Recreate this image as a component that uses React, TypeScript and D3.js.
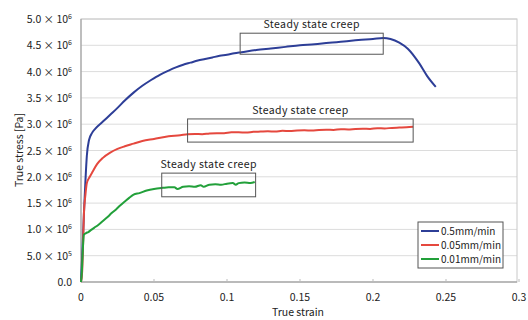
import React from 'react';
import * as d3 from 'd3';

// 0.5 mm/min
const blueStrain = [0, 0.001, 0.002, 0.003, 0.004, 0.0055, 0.0075, 0.01, 0.015, 0.02, 0.025, 0.03, 0.036, 0.042, 0.048, 0.054, 0.06, 0.065, 0.07, 0.075, 0.08, 0.085, 0.09, 0.095, 0.1, 0.105, 0.11, 0.12, 0.13, 0.14, 0.15, 0.16, 0.17, 0.18, 0.19, 0.2, 0.207, 0.212, 0.218, 0.224, 0.2316, 0.237, 0.243];
const blueStress = [0, 0.6, 1.3, 1.9, 2.4, 2.7, 2.83, 2.92, 3.05, 3.18, 3.31, 3.45, 3.6, 3.73, 3.84, 3.94, 4.02, 4.08, 4.13, 4.17, 4.21, 4.24, 4.27, 4.3, 4.32, 4.35, 4.37, 4.41, 4.44, 4.47, 4.5, 4.52, 4.55, 4.57, 4.6, 4.62, 4.64, 4.62, 4.55, 4.43, 4.16, 3.92, 3.71];

// 0.05 mm/min
const redStrain = [0, 0.0008, 0.0015, 0.002, 0.003, 0.004, 0.006, 0.008, 0.011, 0.015, 0.02, 0.025, 0.03, 0.036, 0.042, 0.05, 0.06, 0.068, 0.073, 0.078, 0.083, 0.088, 0.093, 0.098, 0.103, 0.108, 0.113, 0.118, 0.123, 0.128, 0.133, 0.138, 0.143, 0.148, 0.153, 0.158, 0.163, 0.168, 0.173, 0.178, 0.183, 0.188, 0.193, 0.198, 0.203, 0.208, 0.213, 0.218, 0.223, 0.2275];
const redStress = [0, 0.2, 0.8, 1.3, 1.65, 1.88, 2.0, 2.1, 2.24, 2.36, 2.46, 2.53, 2.58, 2.63, 2.68, 2.72, 2.77, 2.79, 2.81, 2.815, 2.81, 2.825, 2.83, 2.83, 2.845, 2.845, 2.84, 2.855, 2.86, 2.865, 2.86, 2.875, 2.87, 2.88, 2.885, 2.88, 2.89, 2.895, 2.89, 2.905, 2.9, 2.91, 2.915, 2.91, 2.925, 2.92, 2.93, 2.935, 2.94, 2.95];

// 0.01 mm/min
const greenStrain = [0, 0.0005, 0.001, 0.0015, 0.002, 0.0035, 0.005, 0.007, 0.009, 0.012, 0.015, 0.018, 0.021, 0.024, 0.027, 0.03, 0.033, 0.036, 0.04, 0.045, 0.05, 0.056, 0.06, 0.064, 0.066, 0.07, 0.074, 0.078, 0.082, 0.084, 0.088, 0.092, 0.096, 0.1, 0.104, 0.106, 0.108, 0.112, 0.116, 0.119];
const greenStress = [0, 0.15, 0.45, 0.75, 0.9, 0.93, 0.95, 0.99, 1.03, 1.09, 1.16, 1.23, 1.31, 1.38, 1.46, 1.53, 1.6, 1.66, 1.69, 1.74, 1.77, 1.79, 1.8, 1.8, 1.77, 1.81, 1.82, 1.81, 1.84, 1.81, 1.85, 1.86, 1.85, 1.87, 1.88, 1.85, 1.88, 1.89, 1.88, 1.9];

const legendLabels = ['0.5mm/min', '0.05mm/min', '0.01mm/min'];
const seriesColors = ['#2d3e97', '#e5483e', '#22a03a'];

const xTicks = [0, 0.05, 0.1, 0.15, 0.2, 0.25, 0.3];
const xTickLabels = ['0', '0.05', '0.1', '0.15', '0.2', '0.25', '0.3'];
const yTicks = [0, 0.5, 1, 1.5, 2, 2.5, 3, 3.5, 4, 4.5, 5];
const yTickMant = ['0.0', '5.0', '1.0', '1.5', '2.0', '2.5', '3.0', '3.5', '4.0', '4.5', '5.0'];
const yTickExp = ['', '5', '6', '6', '6', '6', '6', '6', '6', '6', '6'];

// steady state creep boxes: [x0, x1, y0, y1] in data units (stress x1e6)
const creepBoxes = [
  [0.109, 0.207, 4.33, 4.73],
  [0.073, 0.2275, 2.66, 3.1],
  [0.0553, 0.1196, 1.62, 2.07],
];
const creepLabel = 'Steady state creep';

const FONT = '"Noto Sans CJK JP", "Noto Sans", sans-serif';

export default function App() {
  const W = 528;
  const H = 320;
  const x = d3.scaleLinear().domain([0, 0.3]).range([81, 519]);
  const y = d3.scaleLinear().domain([0, 5]).range([282, 19]);

  const series = [
    { s: blueStrain, v: blueStress },
    { s: redStrain, v: redStress },
    { s: greenStrain, v: greenStress },
  ];

  const line = d3
    .line<[number, number]>()
    .x(d => x(d[0]))
    .y(d => y(d[1]))
    .curve(d3.curveMonotoneX);

  const legX = 418;
  const legY = 222;

  return (
    <svg width={W} height={H} style={{ position: 'absolute', left: 0, top: 0, background: '#fff' }} fontFamily={FONT}>
      <rect x={0} y={0} width={W} height={H} fill="#fff" />
      {/* grid */}
      {yTicks.map(t => (
        <line key={'g' + t} x1={x(0)} x2={x(0.3) - 2} y1={y(t)} y2={y(t)} stroke="#dcdcdc" strokeWidth={1} />
      ))}
      {/* frame */}
      <rect x={x(0)} y={y(5)} width={x(0.3) - 2 - x(0)} height={y(0) - y(5)} fill="none" stroke="#c8c8c8" />
      <line x1={x(0)} x2={x(0)} y1={y(5)} y2={y(0)} stroke="#999" />
      <line x1={x(0)} x2={x(0.3) - 2} y1={y(0)} y2={y(0)} stroke="#999" />
      {xTicks.map(t => (
        <line key={'xt' + t} x1={x(t)} x2={x(t)} y1={y(0) - 3} y2={y(0)} stroke="#bbb" />
      ))}

      {/* y tick labels */}
      {yTicks.map((t, i) => (
        <text key={'yl' + t} x={72} y={y(t) + 4} textAnchor="end" fontSize={10.5} fill="#222">
          {yTickExp[i] ? (
            <>
              {yTickMant[i]} × 10
              <tspan fontSize={7} dy={-4}>{yTickExp[i]}</tspan>
            </>
          ) : (
            yTickMant[i]
          )}
        </text>
      ))}
      {/* x tick labels */}
      {xTicks.map((t, i) => (
        <text key={'xl' + t} x={x(t)} y={301} textAnchor="middle" fontSize={10.5} fill="#222">
          {xTickLabels[i]}
        </text>
      ))}

      <text x={298} y={316} textAnchor="middle" fontSize={10.5} fill="#222">True strain</text>
      <text transform="translate(23,150) rotate(-90)" textAnchor="middle" fontSize={10.5} fill="#222">True stress [Pa]</text>

      {/* curves */}
      {series.map((sr, i) => (
        <path
          key={'c' + i}
          d={line(sr.s.map((s, j) => [s, sr.v[j]] as [number, number])) || ''}
          fill="none"
          stroke={seriesColors[i]}
          strokeWidth={2}
          strokeLinejoin="round"
        />
      ))}

      {/* steady state boxes */}
      {creepBoxes.map((b, i) => (
        <g key={'b' + i}>
          <rect x={x(b[0])} y={y(b[3])} width={x(b[1]) - x(b[0])} height={y(b[2]) - y(b[3])} fill="none" stroke="#555" strokeWidth={1} />
          <text x={(x(b[0]) + x(b[1])) / 2} y={y(b[3]) - 5} textAnchor="middle" fontSize={10.5} letterSpacing={0.4} fill="#222">
            {creepLabel}
          </text>
        </g>
      ))}

      {/* legend */}
      <rect x={legX} y={legY} width={85} height={46} fill="#fff" stroke="#555" />
      {legendLabels.map((l, i) => (
        <g key={'lg' + i}>
          <line x1={legX + 3} x2={legX + 21} y1={legY + 9 + i * 14} y2={legY + 9 + i * 14} stroke={seriesColors[i]} strokeWidth={2} />
          <text x={legX + 23} y={legY + 13 + i * 14} fontSize={10} fill="#222">{l}</text>
        </g>
      ))}
    </svg>
  );
}
